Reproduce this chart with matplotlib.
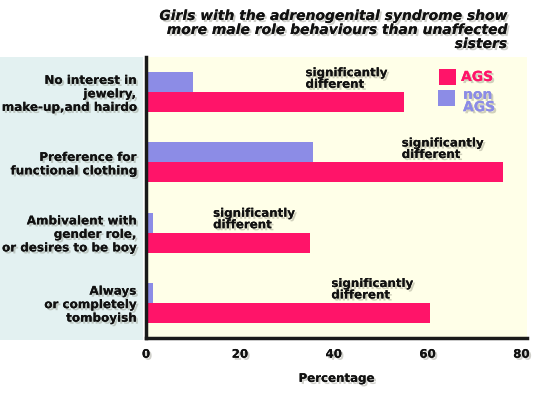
import matplotlib
matplotlib.use("Agg")
import matplotlib.pyplot as plt
import matplotlib.patheffects as pe
from matplotlib.patches import Rectangle
import numpy as np

categories = ["No interest in\njewelry,\nmake-up,and hairdo",
              "Preference for\nfunctional clothing",
              "Ambivalent with\ngender role,\nor desires to be boy",
              "Always\nor completely\ntomboyish"]
ags = [55, 76, 35, 60.5]
non_ags = [10, 35.5, 1.5, 1.5]
note_x = [34, 54.5, 14.3, 39.5]
xticks = [0, 20, 40, 60, 80]

PINK = "#ff1469"
PURPLE = "#8c8ce6"
YELLOW = "#ffffe8"
LBLUE = "#e3f1f1"

W, H = 560, 393
fig = plt.figure(figsize=(W/100, H/100), dpi=100)
fig.patch.set_facecolor("white")

shadow = [pe.withSimplePatchShadow(offset=(1.5, -1.5), shadow_rgbFace="#666655", alpha=0.3), pe.Normal()]

# left label panel
fig.patches.append(Rectangle((0, (H-340)/H), 143/W, (340-57)/H, transform=fig.transFigure,
                             facecolor=LBLUE, edgecolor="none", zorder=-5))

ax = fig.add_axes([146/W, (H-338)/H, (527-146)/W, (338-57)/H])
ax.set_facecolor(YELLOW)

n = len(categories)
y = np.arange(n)
h = 0.285
ax.barh(y + h/2, ags, height=h, color=PINK, zorder=2)
ax.barh(y - h/2, non_ags, height=h, color=PURPLE, zorder=2)
ax.set_ylim(n - 0.5, -0.5)
ax.set_xlim(0, 81.2)

for s in ["top", "right"]:
    ax.spines[s].set_visible(False)
for s in ["left", "bottom"]:
    ax.spines[s].set_linewidth(2.5)
    ax.spines[s].set_color("#1a1a1a")

ax.set_yticks(y)
ax.set_yticklabels(categories, fontsize=8.6, fontweight="bold", color="#111111",
                   linespacing=1.05, ha="right")
ax.tick_params(axis="y", length=0, pad=7)
ax.set_xticks(xticks)
ax.set_xticklabels([str(t) for t in xticks], fontsize=8.5, fontweight="bold", color="#111111")
ax.tick_params(axis="x", length=0, pad=7)
for lab in ax.get_xticklabels() + ax.get_yticklabels():
    lab.set_path_effects(shadow)
ax.set_xlabel("Percentage", fontsize=8.5, fontweight="bold", color="#111111", labelpad=8)
ax.xaxis.label.set_path_effects(shadow)

for i in range(n):
    ax.text(note_x[i], i - 0.02, "significantly\ndifferent", fontsize=8.5, fontweight="bold",
            color="#111111", ha="left", va="bottom", linespacing=0.85, zorder=3,
            path_effects=shadow)

# legend
ax.add_patch(Rectangle(((439-146)/(527-146), 1-(85-57)/281), 17/381, 16/281,
                       transform=ax.transAxes, facecolor=PINK, edgecolor="none", zorder=3))
ax.add_patch(Rectangle(((438-146)/(527-146), 1-(106-57)/281), 17/381, 16/281,
                       transform=ax.transAxes, facecolor=PURPLE, edgecolor="none", zorder=3))
ax.text((461-146)/381, 1-(77-57)/281, "AGS", transform=ax.transAxes, fontsize=10,
        fontweight="bold", color=PINK, va="center", ha="left", path_effects=shadow)
ax.text((463-146)/381, 1-(101-57)/281, "non\nAGS", transform=ax.transAxes, fontsize=10,
        fontweight="bold", color=PURPLE, va="center", ha="left", linespacing=0.85,
        path_effects=shadow)

fig.text(507/W, 1-9/H, "Girls with the adrenogenital syndrome show\nmore male role behaviours than unaffected\nsisters",
         fontsize=10, fontweight="bold", style="italic", color="#111111", ha="right", va="top",
         linespacing=1.0, path_effects=shadow)

fig.savefig("out.png", dpi=100)
